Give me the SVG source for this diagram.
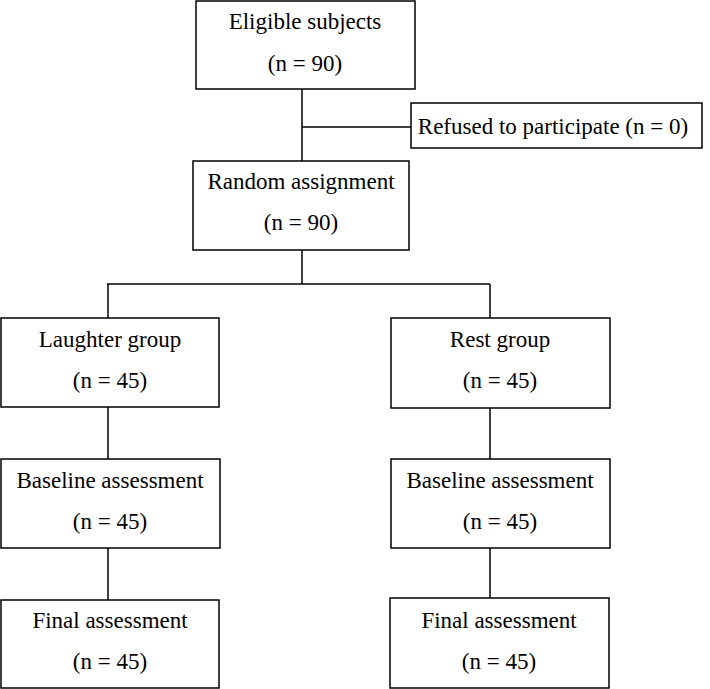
<svg xmlns="http://www.w3.org/2000/svg" width="710" height="689" viewBox="0 0 710 689">
<style>
rect{fill:#fff;stroke:#000;stroke-width:1.5}
line{stroke:#000;stroke-width:1.5}
text{font-family:"Liberation Serif","Times New Roman",serif;font-size:23px;fill:#000;text-anchor:middle}
</style>
<rect width="710" height="689" fill="#fff" style="stroke:none"/>
<g id="connectors">
<line x1="302" y1="89" x2="302" y2="161"/>
<line x1="302" y1="127" x2="411" y2="127"/>
<line x1="302" y1="250" x2="302" y2="284"/>
<line x1="107" y1="284" x2="490" y2="284"/>
<line x1="108" y1="284" x2="108" y2="318"/>
<line x1="490" y1="284" x2="490" y2="318"/>
<line x1="108" y1="407" x2="108" y2="459"/>
<line x1="490" y1="408" x2="490" y2="459"/>
<line x1="108" y1="548" x2="108" y2="600"/>
<line x1="490" y1="548" x2="490" y2="598"/>
</g>
<g id="eligible"><rect x="196" y="1" width="219" height="88"/><text x="305" y="29">Eligible subjects</text><text x="305" y="71">(n = 90)</text></g>
<g id="refused"><rect x="411" y="103" width="291" height="45"/><text x="553" y="134">Refused to participate (n = 0)</text></g>
<g id="random"><rect x="193" y="161" width="216" height="89"/><text x="301" y="189">Random assignment</text><text x="301" y="230">(n = 90)</text></g>
<g id="laughter"><rect x="1" y="318" width="218" height="89"/><text x="110" y="347">Laughter group</text><text x="110" y="388">(n = 45)</text></g>
<g id="rest"><rect x="391" y="318" width="219" height="90"/><text x="500" y="347">Rest group</text><text x="500" y="388">(n = 45)</text></g>
<g id="baseline-left"><rect x="1" y="459" width="219" height="89"/><text x="110" y="488">Baseline assessment</text><text x="110" y="529">(n = 45)</text></g>
<g id="baseline-right"><rect x="391" y="459" width="219" height="89"/><text x="500" y="488">Baseline assessment</text><text x="500" y="529">(n = 45)</text></g>
<g id="final-left"><rect x="1" y="600" width="218" height="88"/><text x="110" y="628">Final assessment</text><text x="110" y="669">(n = 45)</text></g>
<g id="final-right"><rect x="390" y="598" width="219" height="90"/><text x="499" y="628">Final assessment</text><text x="499" y="669">(n = 45)</text></g>
</svg>
